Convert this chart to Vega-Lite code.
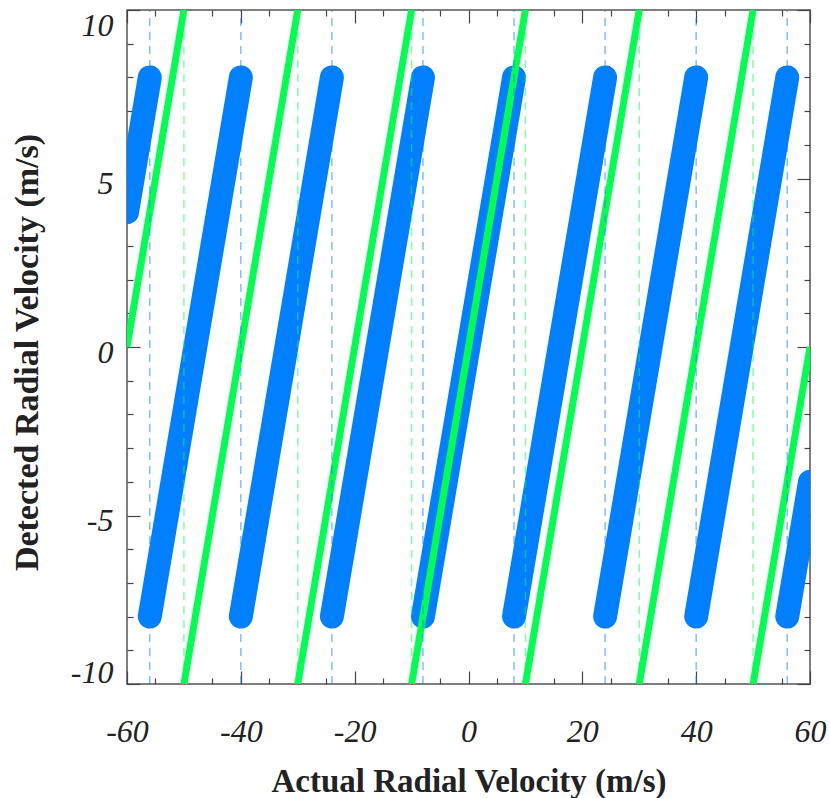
{
  "$schema": "https://vega.github.io/schema/vega-lite/v6.json",
  "width": 683,
  "height": 674,
  "autosize": {"type": "none"},
  "padding": {"left": 127, "top": 10, "right": 20, "bottom": 114},
  "background": "white",
  "config": {
    "view": {"stroke": "#555555", "strokeWidth": 1.5},
    "axis": {
      "grid": false,
      "domain": false,
      "labelFont": "Liberation Serif",
      "labelFontStyle": "italic",
      "labelFontSize": 32,
      "labelColor": "#222222",
      "titleFont": "Liberation Serif",
      "titleFontWeight": "bold",
      "titleColor": "#222222",
      "tickColor": "#444444",
      "tickWidth": 1.2,
      "labelOverlap": false,
      "labelFlush": false
    }
  },
  "datasets": {
    "blue": [
      {"seg": 0, "actual": -60, "detected": 4}, {"seg": 0, "actual": -56, "detected": 8},
      {"seg": 1, "actual": -56, "detected": -8}, {"seg": 1, "actual": -40, "detected": 8},
      {"seg": 2, "actual": -40, "detected": -8}, {"seg": 2, "actual": -24, "detected": 8},
      {"seg": 3, "actual": -24, "detected": -8}, {"seg": 3, "actual": -8, "detected": 8},
      {"seg": 4, "actual": -8, "detected": -8}, {"seg": 4, "actual": 8, "detected": 8},
      {"seg": 5, "actual": 8, "detected": -8}, {"seg": 5, "actual": 24, "detected": 8},
      {"seg": 6, "actual": 24, "detected": -8}, {"seg": 6, "actual": 40, "detected": 8},
      {"seg": 7, "actual": 40, "detected": -8}, {"seg": 7, "actual": 56, "detected": 8},
      {"seg": 8, "actual": 56, "detected": -8}, {"seg": 8, "actual": 60, "detected": -4}
    ],
    "green": [
      {"seg": 0, "actual": -60, "detected": 0}, {"seg": 0, "actual": -50, "detected": 10},
      {"seg": 1, "actual": -50, "detected": -10}, {"seg": 1, "actual": -30, "detected": 10},
      {"seg": 2, "actual": -30, "detected": -10}, {"seg": 2, "actual": -10, "detected": 10},
      {"seg": 3, "actual": -10, "detected": -10}, {"seg": 3, "actual": 10, "detected": 10},
      {"seg": 4, "actual": 10, "detected": -10}, {"seg": 4, "actual": 30, "detected": 10},
      {"seg": 5, "actual": 30, "detected": -10}, {"seg": 5, "actual": 50, "detected": 10},
      {"seg": 6, "actual": 50, "detected": -10}, {"seg": 6, "actual": 60, "detected": 0}
    ],
    "blueFold": [
      {"actual": -56}, {"actual": -40}, {"actual": -24}, {"actual": -8},
      {"actual": 8}, {"actual": 24}, {"actual": 40}, {"actual": 56}
    ],
    "greenFold": [
      {"actual": -50}, {"actual": -30}, {"actual": -10},
      {"actual": 10}, {"actual": 30}, {"actual": 50}
    ]
  },
  "layer": [
    {
      "data": {"name": "blue"},
      "mark": {"type": "line", "color": "#0080FF", "strokeWidth": 24, "strokeCap": "round", "clip": true},
      "encoding": {
        "x": {
          "field": "actual", "type": "quantitative",
          "scale": {"domain": [-60, 60], "nice": false, "zero": false},
          "axis": {
            "orient": "bottom", "ticks": false,
            "values": [-60, -40, -20, 0, 20, 40, 60],
            "labelExpr": "replace(datum.label, '\u2212', '-')",
            "labelPadding": 32,
            "title": "Actual Radial Velocity (m/s)",
            "titleFontSize": 33,
            "titleBaseline": "alphabetic",
            "titleY": 107
          }
        },
        "y": {
          "field": "detected", "type": "quantitative",
          "scale": {"domain": [-10, 10], "nice": false, "zero": false},
          "axis": {
            "orient": "left", "ticks": false,
            "values": [-10, -5, 0, 5, 10],
            "labelExpr": "replace(datum.label, '\u2212', '-')",
            "labelPadding": 14,
            "labelFlush": true,
            "labelOffset": {"condition": {"test": "datum.value == 10", "value": 0}, "value": 5},
            "title": "Detected Radial Velocity (m/s)",
            "titleFontSize": 34,
            "titleAngle": -90,
            "titleAlign": "center",
            "titleBaseline": "alphabetic",
            "titleX": -90,
            "titleY": 342
          }
        },
        "detail": {"field": "seg"}
      }
    },
    {
      "data": {"name": "green"},
      "mark": {"type": "line", "color": "#00FF50", "strokeWidth": 7, "clip": true},
      "encoding": {
        "x": {
          "field": "actual", "type": "quantitative",
          "scale": {"domain": [-60, 60], "nice": false, "zero": false},
          "axis": {"orient": "bottom", "labels": false, "title": null, "tickSize": -13,
                   "values": [-60, -40, -20, 0, 20, 40, 60]}
        },
        "y": {
          "field": "detected", "type": "quantitative",
          "scale": {"domain": [-10, 10], "nice": false, "zero": false},
          "axis": {"orient": "left", "labels": false, "title": null, "tickSize": -13,
                   "values": [-10, -5, 0, 5, 10]}
        },
        "detail": {"field": "seg"}
      }
    },
    {
      "data": {"name": "blueFold"},
      "mark": {"type": "rule", "color": "#0080FF", "opacity": 0.5, "strokeWidth": 1.5, "strokeDash": [8, 6]},
      "encoding": {
        "x": {
          "field": "actual", "type": "quantitative",
          "scale": {"domain": [-60, 60], "nice": false, "zero": false},
          "axis": {"orient": "bottom", "labels": false, "title": null, "tickSize": -6,
                   "values": [-55, -50, -45, -35, -30, -25, -15, -10, -5, 5, 10, 15, 25, 30, 35, 45, 50, 55]}
        },
        "y": {
          "datum": -10, "type": "quantitative",
          "scale": {"domain": [-10, 10], "nice": false, "zero": false},
          "axis": {"orient": "left", "labels": false, "title": null, "tickSize": -6,
                   "values": [-9, -8, -7, -6, -4, -3, -2, -1, 1, 2, 3, 4, 6, 7, 8, 9]}
        },
        "y2": {"datum": 10}
      }
    },
    {
      "data": {"name": "greenFold"},
      "mark": {"type": "rule", "color": "#00FF50", "opacity": 0.5, "strokeWidth": 1.5, "strokeDash": [8, 6]},
      "encoding": {
        "x": {
          "field": "actual", "type": "quantitative",
          "scale": {"domain": [-60, 60], "nice": false, "zero": false},
          "axis": {"orient": "top", "labels": false, "title": null, "tickSize": -13,
                   "values": [-60, -40, -20, 0, 20, 40, 60]}
        },
        "y": {
          "datum": -10, "type": "quantitative",
          "scale": {"domain": [-10, 10], "nice": false, "zero": false},
          "axis": {"orient": "right", "labels": false, "title": null, "tickSize": -13,
                   "values": [-10, -5, 0, 5, 10]}
        },
        "y2": {"datum": 10}
      }
    },
    {
      "data": {"name": "greenFold"},
      "mark": {"type": "rule", "opacity": 0},
      "encoding": {
        "x": {
          "field": "actual", "type": "quantitative",
          "scale": {"domain": [-60, 60], "nice": false, "zero": false},
          "axis": {"orient": "top", "labels": false, "title": null, "tickSize": -6,
                   "values": [-55, -50, -45, -35, -30, -25, -15, -10, -5, 5, 10, 15, 25, 30, 35, 45, 50, 55]}
        },
        "y": {
          "datum": -10, "type": "quantitative",
          "scale": {"domain": [-10, 10], "nice": false, "zero": false},
          "axis": {"orient": "right", "labels": false, "title": null, "tickSize": -6,
                   "values": [-9, -8, -7, -6, -4, -3, -2, -1, 1, 2, 3, 4, 6, 7, 8, 9]}
        },
        "y2": {"datum": 10}
      }
    }
  ],
  "resolve": {"axis": {"x": "independent", "y": "independent"}}
}
